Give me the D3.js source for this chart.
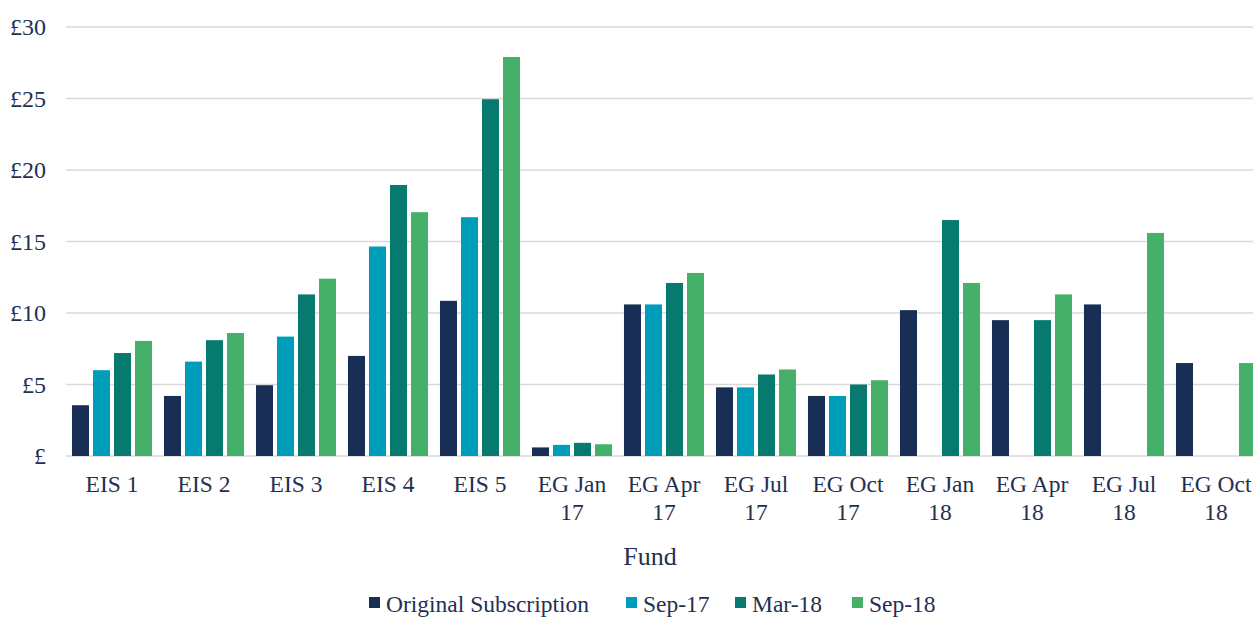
<!DOCTYPE html>
<html>
<head>
<meta charset="utf-8">
<style>
  svg text { font-family: "Liberation Serif", Tinos, "Times New Roman", serif; }
</style>
<script src="https://cdn.jsdelivr.net/npm/d3@7"></script>
</head>
<body style="margin:0">
<svg width="1253" height="617" font-family="Liberation Serif, serif"></svg>
<script>
'use strict';

/* Funds along the x axis. */
var funds = ['EIS 1', 'EIS 2', 'EIS 3', 'EIS 4', 'EIS 5', 'EG Jan 17', 'EG Apr 17',
  'EG Jul 17', 'EG Oct 17', 'EG Jan 18', 'EG Apr 18', 'EG Jul 18', 'EG Oct 18'];

/* Series names, in legend order. */
var seriesNames = ['Original Subscription', 'Sep-17', 'Mar-18', 'Sep-18'];

/* Values per series (null = no bar). */
var original = [3.55, 4.2, 4.95, 7.0, 10.85, 0.6, 10.6, 4.8, 4.2, 10.2, 9.5, 10.6, 6.5];
var sep17 = [6.0, 6.6, 8.35, 14.65, 16.7, 0.78, 10.6, 4.8, 4.2, null, null, null, null];
var mar18 = [7.2, 8.1, 11.3, 18.95, 24.95, 0.92, 12.1, 5.7, 5.0, 16.5, 9.5, null, null];
var sep18 = [8.05, 8.6, 12.4, 17.05, 27.9, 0.82, 12.8, 6.05, 5.3, 12.1, 11.3, 15.6, 6.5];

/* Y axis ticks. */
var yTicks = [0, 5, 10, 15, 20, 25, 30];

var colors = ['#182e54', '#009dba', '#067a6f', '#46b06a'];
var textColor = '#1f3153';

/* Left edge of each legend entry. */
var legendX = [369, 626, 735, 852];

var svg = d3.select('svg');

/* Plot area. */
var margin = {top: 27, left: 66, bottom: 456, right: 1262};

var x = d3.scaleBand()
  .domain(funds)
  .range([margin.left, margin.right])
  .paddingInner(0.13)
  .paddingOuter(0.065);

var xs = d3.scaleBand()
  .domain(d3.range(seriesNames.length))
  .range([0, x.bandwidth()])
  .paddingInner(0.19);

var y = d3.scaleLinear()
  .domain([0, 30])
  .range([margin.bottom, margin.top]);

var color = d3.scaleOrdinal().domain(d3.range(4)).range(colors);

var series = [original, sep17, mar18, sep18];

/* Put a serif text at (px, py). */
function label(parent, px, py, size, str) {
  return parent.append('text')
    .attr('font-family', 'Liberation Serif, serif')
    .style('font-family', '"Liberation Serif"')
    .style('font-size', size + 'px')
    .attr('x', px)
    .attr('y', py)
    .attr('fill', textColor)
    .text(str);
}

/* Gridlines. */
svg.append('g')
  .selectAll('line')
  .data(yTicks)
  .enter()
  .append('line')
  .attr('x1', margin.left)
  .attr('x2', margin.right)
  .attr('y1', function (d) { return y(d); })
  .attr('y2', function (d) { return y(d); })
  .attr('stroke', '#d9d9d9')
  .attr('stroke-width', 1.5);

/* Y tick labels. */
var yAxis = svg.append('g');
yTicks.forEach(function (d) {
  label(yAxis, 46, y(d) + 8, 24, d === 0 ? '£' : '£' + d)
    .attr('text-anchor', 'end');
});

/* Bars, one group per fund. */
var groups = svg.append('g')
  .selectAll('g')
  .data(funds)
  .enter()
  .append('g')
  .attr('transform', function (d) { return 'translate(' + x(d) + ',0)'; });

groups.selectAll('rect')
  .data(function (d, i) {
    return series.map(function (s, k) { return {k: k, v: s[i]}; })
      .filter(function (e) { return e.v !== null; });
  })
  .enter()
  .append('rect')
  .attr('x', function (d) { return xs(d.k); })
  .attr('y', function (d) { return y(d.v); })
  .attr('width', xs.bandwidth())
  .attr('height', function (d) { return y(0) - y(d.v); })
  .attr('fill', function (d) { return color(d.k); });

/* X tick labels, wrapped after the second word. */
var xAxis = svg.append('g');
funds.forEach(function (d) {
  var words = d.split(' ');
  var lines = words.length > 2 ? [words.slice(0, 2).join(' '), words.slice(2).join(' ')] : [d];
  lines.forEach(function (line, i) {
    label(xAxis, x(d) + x.bandwidth() / 2, 492 + i * 28, 23.5, line)
      .attr('text-anchor', 'middle');
  });
});

/* Axis title. */
label(svg, 650, 565, 26, 'Fund').attr('text-anchor', 'middle');

/* Legend. */
var legend = svg.append('g').attr('transform', 'translate(0,612)');
seriesNames.forEach(function (name, k) {
  legend.append('rect')
    .attr('x', legendX[k])
    .attr('y', -15)
    .attr('width', 11)
    .attr('height', 11)
    .attr('fill', color(k));
  label(legend, legendX[k] + 17, 0, 23.5, name);
});
</script>
</body>
</html>
